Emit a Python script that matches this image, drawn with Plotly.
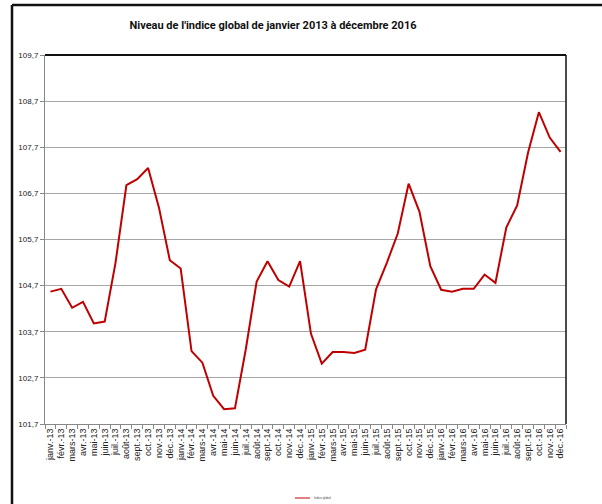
import plotly.graph_objects as go

months = ["janv.", "févr.", "mars", "avr.", "mai", "juin", "juil.", "août", "sept.", "oct.", "nov.", "déc."]
years = ["13", "14", "15", "16"]
categories = [f"{m}-{y}" for y in years for m in months]

indice_global = [
    104.57, 104.63, 104.22, 104.35, 103.88, 103.92, 105.20, 106.88, 107.01, 107.25, 106.39, 105.25,
    105.07, 103.28, 103.03, 102.31, 102.02, 102.04, 103.32, 104.79, 105.23, 104.82, 104.68, 105.23,
    103.66, 103.01, 103.26, 103.26, 103.24, 103.31, 104.62, 105.20, 105.83, 106.91, 106.30, 105.12,
    104.61, 104.57, 104.63, 104.63, 104.94, 104.76, 105.96, 106.44, 107.58, 108.46, 107.91, 107.60,
]

y_ticks = [101.7, 102.7, 103.7, 104.7, 105.7, 106.7, 107.7, 108.7, 109.7]
y_tick_text = [f"{v:.1f}".replace(".", ",") for v in y_ticks]

title_text = "Niveau de l'indice global de janvier 2013 à décembre 2016"
series_name = "Indice global"

fig = go.Figure()
fig.add_trace(go.Scatter(
    x=categories, y=indice_global, mode="lines", name=series_name,
    line=dict(color="#C00000", width=2), showlegend=False,
))

fig.update_layout(
    width=602, height=504,
    margin=dict(l=45, r=36, t=55, b=80),
    paper_bgcolor="white", plot_bgcolor="white",
    font=dict(family="Liberation Sans, Arial, sans-serif", color="#222"),
    title=dict(text=f"<b>{title_text}</b>", x=273/602, xanchor="center", y=1-25/504, yanchor="middle",
               font=dict(size=11, family="Liberation Sans Narrow, Roboto, Arial", color="#111")),
)

fig.update_xaxes(
    type="category", range=[-0.5, 47.5], tickangle=-90, tickson="boundaries",
    tickmode="linear", tick0=0, dtick=1,
    ticks="outside", ticklen=4, tickcolor="#888", showline=True, linecolor="#888", linewidth=1,
    showgrid=False, tickfont=dict(size=9, color="#222"), mirror=False,
)
fig.update_yaxes(
    range=[101.7, 109.7], tickvals=y_ticks, ticktext=y_tick_text,
    ticks="outside", ticklen=4, tickcolor="#888", showline=True, linecolor="#888", linewidth=1,
    showgrid=True, gridcolor="#a6a6a6", gridwidth=1, zeroline=False,
    tickfont=dict(size=8, color="#222"),
)

PW, PH = 521, 369
def px(x):
    return (x - 45) / PW
def py(y):
    return (424 - y) / PH

# plot-area top and right borders
fig.add_shape(type="line", xref="paper", yref="paper", x0=0, x1=1, y0=1, y1=1,
              line=dict(color="#111", width=2))
fig.add_shape(type="line", xref="paper", yref="paper", x0=1, x1=1, y0=0, y1=1,
              line=dict(color="#111", width=1.5))
# outer chart frame (top and left)
fig.add_shape(type="line", xref="paper", yref="paper", x0=px(12), x1=px(610),
              y0=py(5), y1=py(5), line=dict(color="#111", width=2.5))
fig.add_shape(type="line", xref="paper", yref="paper", x0=px(12), x1=px(12),
              y0=py(5), y1=py(510), line=dict(color="#111", width=2.5))
# legend
fig.add_shape(type="line", xref="paper", yref="paper", x0=px(295), x1=px(310),
              y0=py(498), y1=py(498), line=dict(color="#C00000", width=1))
fig.add_annotation(text=series_name, xref="paper", yref="paper", x=px(312), y=py(498),
                   xanchor="left", yanchor="middle", showarrow=False, font=dict(size=3, color="#444"))

fig.write_html("out.html", config={"displayModeBar": False},
               post_script="document.body.style.margin='0';document.body.style.overflow='hidden';")
